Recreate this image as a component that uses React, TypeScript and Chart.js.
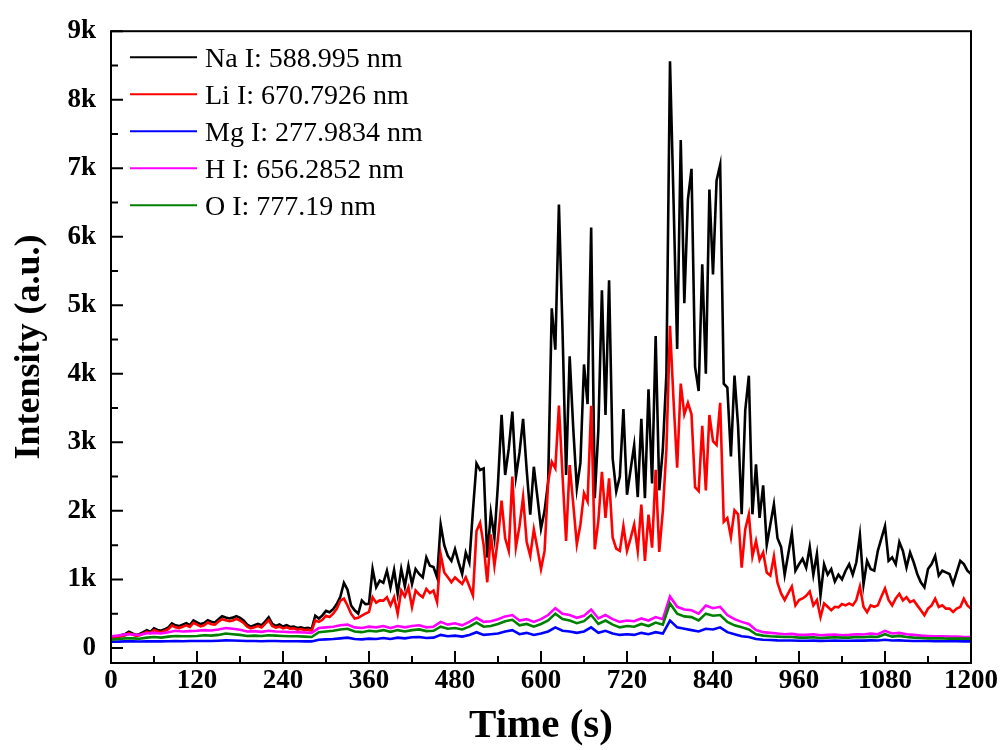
import React, { useEffect, useRef } from 'react';
import { Chart, registerables } from 'chart.js';

Chart.register(...registerables);

// sampling times (s)
const timeNaLi = Array.from({ length: 241 }, (_, i) => i * 5);
const timeSmall = Array.from({ length: 121 }, (_, i) => i * 10);

const naValues = [
  150, 160, 175, 190, 205, 235, 210, 190, 205, 230, 258, 235,
  285, 262, 250, 272, 300, 358, 330, 318, 340, 362, 332, 402,
  372, 348, 362, 405, 382, 372, 420, 462, 445, 430, 442, 465,
  440, 400, 340, 310, 330, 352, 330, 385, 448, 352, 322, 342,
  312, 332, 305, 312, 290, 302, 285, 292, 276, 470, 430, 475,
  540, 520, 565, 640, 745, 950, 850, 620, 549, 501, 693, 640,
  645, 1151, 886, 982, 950, 1127, 880, 1137, 790, 1151, 900, 1199,
  930, 1151, 1080, 1030, 1319, 1200, 1180, 1030, 1801, 1500, 1343, 1271,
  1440, 1250, 1079, 1392, 1247, 2000, 2692, 2596, 2620, 1319, 1970, 1608,
  2400, 3400, 2524, 2908, 3450, 2500, 2850, 3342, 2600, 1946, 2644, 2200,
  1740, 2000, 2427, 4955, 4353, 6472, 4642, 2524, 4257, 3200, 2331, 2700,
  4137, 3559, 6135, 2186, 3174, 5220, 3400, 5365, 2764, 2283, 2500, 3486,
  2235, 2600, 2957, 2200, 3342, 2186, 3775, 2400, 4550, 2300, 2900, 4000,
  8560, 6500, 4363, 7411, 5032, 6544, 6992, 4100, 3750, 5600, 4000, 6688,
  5450, 6823, 7050, 3857, 3800, 2793, 3973, 3240, 1950, 3467, 3973, 1950,
  2680, 1897, 2372, 1504, 1800, 2095, 1600, 1474, 1069, 1372, 1676, 1127,
  1221, 1300, 1170, 1474, 1069, 1372, 766, 1221, 1069, 1150, 968, 1069,
  1000, 1127, 1221, 1069, 1250, 1647, 925, 1271, 1150, 1127, 1416, 1600,
  1777, 1271, 1320, 1221, 1546, 1416, 1175, 1392, 1250, 1079, 958, 886,
  1151, 1223, 1343, 1055, 1127, 1103, 1079, 934, 1103, 1271, 1223, 1127,
  1079,
];

const liValues = [
  140, 150, 160, 170, 185, 215, 195, 175, 185, 210, 235, 215,
  260, 240, 230, 250, 275, 325, 300, 290, 310, 330, 305, 365,
  340, 315, 330, 370, 345, 340, 385, 420, 405, 390, 400, 425,
  400, 365, 310, 285, 300, 320, 300, 350, 405, 320, 295, 310,
  285, 300, 280, 285, 265, 275, 260, 265, 250, 400, 380, 410,
  470, 450, 500, 570, 690, 720, 620, 500, 429, 440, 470, 500,
  525, 741, 660, 693, 690, 741, 620, 741, 501, 838, 750, 886,
  597, 838, 780, 741, 862, 800, 838, 669, 1368, 1100, 1030, 958,
  1030, 980, 934, 1030, 900, 766, 1705, 1825, 1500, 958, 1657, 1199,
  1600, 2150, 1600, 1416, 2499, 1470, 1777, 2200, 1550, 1344, 1729, 1450,
  1151, 1416, 2427, 2716, 2620, 3535, 2524, 1560, 2668, 2100, 1512, 1801,
  2258, 2138, 3535, 1440, 1849, 2571, 1897, 2475, 1608, 1450, 1416, 1777,
  1416, 1600, 1801, 1416, 2090, 1271, 1946, 1464, 2600, 1400, 2000, 2900,
  4700, 3600, 2630, 3857, 3410, 3576, 3410, 2345, 2288, 3240, 2300, 3400,
  3019, 2962, 3576, 1840, 1897, 1618, 2008, 1950, 1170, 1734, 1950, 1336,
  1560, 1286, 1393, 1100, 1055, 1336, 950, 795, 700, 800, 896, 621,
  700, 722, 760, 823, 621, 700, 450, 650, 600, 549, 600, 592,
  640, 621, 650, 621, 700, 896, 600, 520, 621, 600, 621, 750,
  867, 700, 621, 722, 790, 693, 741, 669, 693, 621, 549, 477,
  573, 621, 717, 597, 621, 573, 573, 525, 573, 597, 717, 621,
  573,
];

const mgValues = [
  90, 92, 95, 95, 93, 95, 97, 95, 98, 100, 98, 100,
  100, 102, 100, 105, 110, 108, 105, 100, 100, 98, 100, 100,
  98, 97, 97, 96, 95, 120, 125, 130, 140, 150, 130, 125,
  135, 130, 145, 130, 150, 140, 155, 160, 145, 150, 190, 170,
  180, 165, 190, 230, 190, 200, 210, 240, 260, 200, 220, 190,
  210, 240, 300, 250, 240, 220, 240, 300, 220, 250, 210, 190,
  200, 190, 220, 200, 230, 210, 400, 300, 280, 260, 240, 280,
  270, 300, 230, 200, 170, 160, 130, 120, 115, 110, 108, 108,
  105, 105, 106, 103, 105, 106, 104, 105, 108, 106, 110, 108,
  120, 108, 110, 105, 102, 100, 100, 98, 98, 97, 97, 96,
  96,
];

const hValues = [
  170, 180, 200, 195, 190, 215, 220, 210, 230, 250, 240, 245,
  250, 260, 255, 270, 290, 280, 265, 240, 245, 235, 250, 240,
  235, 230, 230, 225, 220, 290, 300, 310, 330, 340, 300, 290,
  310, 300, 320, 290, 320, 300, 320, 330, 300, 310, 380, 340,
  360, 330, 380, 440, 380, 390, 420, 460, 480, 400, 420, 380,
  420, 480, 580, 500, 480, 440, 470, 560, 430, 480, 420, 380,
  400, 390, 430, 400, 450, 420, 750, 600, 560, 550, 500, 620,
  580, 600, 480, 420, 380, 350, 260, 230, 220, 210, 200, 205,
  190, 190, 200, 185, 190, 195, 185, 190, 200, 195, 210, 200,
  250, 210, 220, 200, 190, 180, 175, 170, 170, 165, 165, 160,
  160,
];

const oValues = [
  120, 130, 140, 140, 135, 150, 160, 150, 165, 175, 170, 170,
  175, 185, 180, 190, 210, 200, 190, 175, 180, 175, 185, 180,
  175, 170, 170, 165, 160, 230, 240, 250, 270, 280, 240, 230,
  250, 240, 260, 235, 260, 240, 260, 270, 245, 250, 310, 280,
  290, 270, 310, 370, 310, 320, 350, 390, 410, 330, 350, 310,
  350, 400, 500, 420, 400, 360, 390, 480, 350, 400, 340, 300,
  320, 310, 350, 320, 370, 340, 650, 500, 460, 450, 400, 500,
  470, 480, 380, 330, 300, 270, 200, 180, 170, 165, 160, 160,
  150, 150, 155, 145, 150, 155, 150, 150, 160, 155, 165, 160,
  200, 165, 175, 160, 150, 145, 140, 140, 140, 135, 135, 135,
  135,
];

const seriesLabels = [
  'Na I: 588.995 nm',
  'Li I: 670.7926 nm',
  'Mg I: 277.9834 nm',
  'H I: 656.2852 nm',
  'O I: 777.19 nm',
];
const seriesColors = ['#000000', '#ff0000', '#0000ff', '#ff00ff', '#008000'];

const xTickValues = [0, 120, 240, 360, 480, 600, 720, 840, 960, 1080, 1200];
const yTickValues = [0, 1000, 2000, 3000, 4000, 5000, 6000, 7000, 8000, 9000];
const yTickLabels = ['0', '1k', '2k', '3k', '4k', '5k', '6k', '7k', '8k', '9k'];

const SERIF = "'Liberation Serif', 'Times New Roman', serif";

const toPoints = (times: number[], vals: number[]) =>
  vals.map((v, i) => ({ x: times[i], y: v }));

const framePlugin = {
  id: 'frameAndLegend',
  afterDraw(chart: any) {
    const { ctx, chartArea: a, scales } = chart;
    const xs = scales.x;
    const ys = scales.y;
    ctx.save();
    ctx.strokeStyle = '#000';
    ctx.lineWidth = 2;
    ctx.strokeRect(a.left, a.top, a.right - a.left, a.bottom - a.top);
    ctx.beginPath();
    xTickValues.forEach((v, i) => {
      const px = xs.getPixelForValue(v);
      ctx.moveTo(px, a.bottom);
      ctx.lineTo(px, a.bottom - 12);
      if (i < xTickValues.length - 1) {
        const m = xs.getPixelForValue((v + xTickValues[i + 1]) / 2);
        ctx.moveTo(m, a.bottom);
        ctx.lineTo(m, a.bottom - 7);
      }
    });
    yTickValues.forEach((v, i) => {
      const py = ys.getPixelForValue(v);
      ctx.moveTo(a.left, py);
      ctx.lineTo(a.left + 12, py);
      if (i < yTickValues.length - 1) {
        const m = ys.getPixelForValue((v + yTickValues[i + 1]) / 2);
        ctx.moveTo(a.left, m);
        ctx.lineTo(a.left + 7, m);
      }
    });
    ctx.stroke();

    // legend
    ctx.font = `28px ${SERIF}`;
    ctx.textBaseline = 'middle';
    ctx.textAlign = 'left';
    seriesLabels.forEach((label, i) => {
      const cy = a.top + 26 + i * 37;
      ctx.strokeStyle = seriesColors[i];
      ctx.lineWidth = 2;
      ctx.beginPath();
      ctx.moveTo(a.left + 19, cy);
      ctx.lineTo(a.left + 86, cy);
      ctx.stroke();
      ctx.fillStyle = '#000';
      ctx.fillText(label, a.left + 94, cy + 2);
    });
    ctx.restore();
  },
};

export default function App() {
  const ref = useRef<HTMLCanvasElement>(null);

  useEffect(() => {
    if (!ref.current) return;
    const seriesData = [
      toPoints(timeNaLi, naValues),
      toPoints(timeNaLi, liValues),
      toPoints(timeSmall, mgValues),
      toPoints(timeSmall, hValues),
      toPoints(timeSmall, oValues),
    ];
    const tickFont = { family: SERIF, weight: 'bold' as const, size: 27 };
    const chart = new Chart(ref.current, {
      type: 'line',
      data: {
        datasets: seriesData.map((d, i) => ({
          label: seriesLabels[i],
          data: d,
          borderColor: seriesColors[i],
          backgroundColor: seriesColors[i],
          borderWidth: 2.6,
          pointRadius: 0,
          tension: 0,
          fill: false,
          order: 5 - i,
        })),
      },
      options: {
        responsive: false,
        animation: false,
        layout: { padding: { left: 0, top: 25, right: 34, bottom: 0 } },
        plugins: { legend: { display: false }, tooltip: { enabled: false } },
        scales: {
          x: {
            type: 'linear',
            min: 0,
            max: 1200,
            grid: { display: false, drawTicks: false },
            border: { display: false },
            afterBuildTicks: (s: any) => {
              s.ticks = xTickValues.map((v) => ({ value: v }));
            },
            afterFit: (s: any) => {
              s.height = 87;
            },
            ticks: {
              color: '#000',
              font: tickFont,
              padding: 2,
              maxRotation: 0,
              autoSkip: false,
              callback: (v: any) => String(v),
            },
            title: {
              display: true,
              text: 'Time (s)',
              color: '#000',
              font: { family: SERIF, weight: 'bold', size: 41, lineHeight: 1 },
              padding: { top: 0, bottom: 3 },
            },
          },
          y: {
            type: 'linear',
            min: -220,
            max: 9000,
            grid: { display: false, drawTicks: false },
            border: { display: false },
            afterBuildTicks: (s: any) => {
              s.ticks = yTickValues.map((v) => ({ value: v }));
            },
            afterFit: (s: any) => {
              s.width = 111;
            },
            ticks: {
              color: '#000',
              font: tickFont,
              padding: 15,
              autoSkip: false,
              callback: (v: any) => {
                const k = yTickValues.indexOf(Number(v));
                return k >= 0 ? yTickLabels[k] : '';
              },
            },
            title: {
              display: true,
              text: 'Intensity (a.u.)',
              color: '#000',
              font: { family: SERIF, weight: 'bold', size: 36, lineHeight: 1 },
              padding: { top: 12, bottom: 0 },
            },
          },
        },
      },
      plugins: [framePlugin],
    });
    return () => chart.destroy();
  }, []);

  return (
    <div style={{ position: 'absolute', left: 0, top: 0, width: 1005, height: 750, background: '#fff' }}>
      <canvas ref={ref} width={1005} height={750} style={{ display: 'block' }} />
    </div>
  );
}
